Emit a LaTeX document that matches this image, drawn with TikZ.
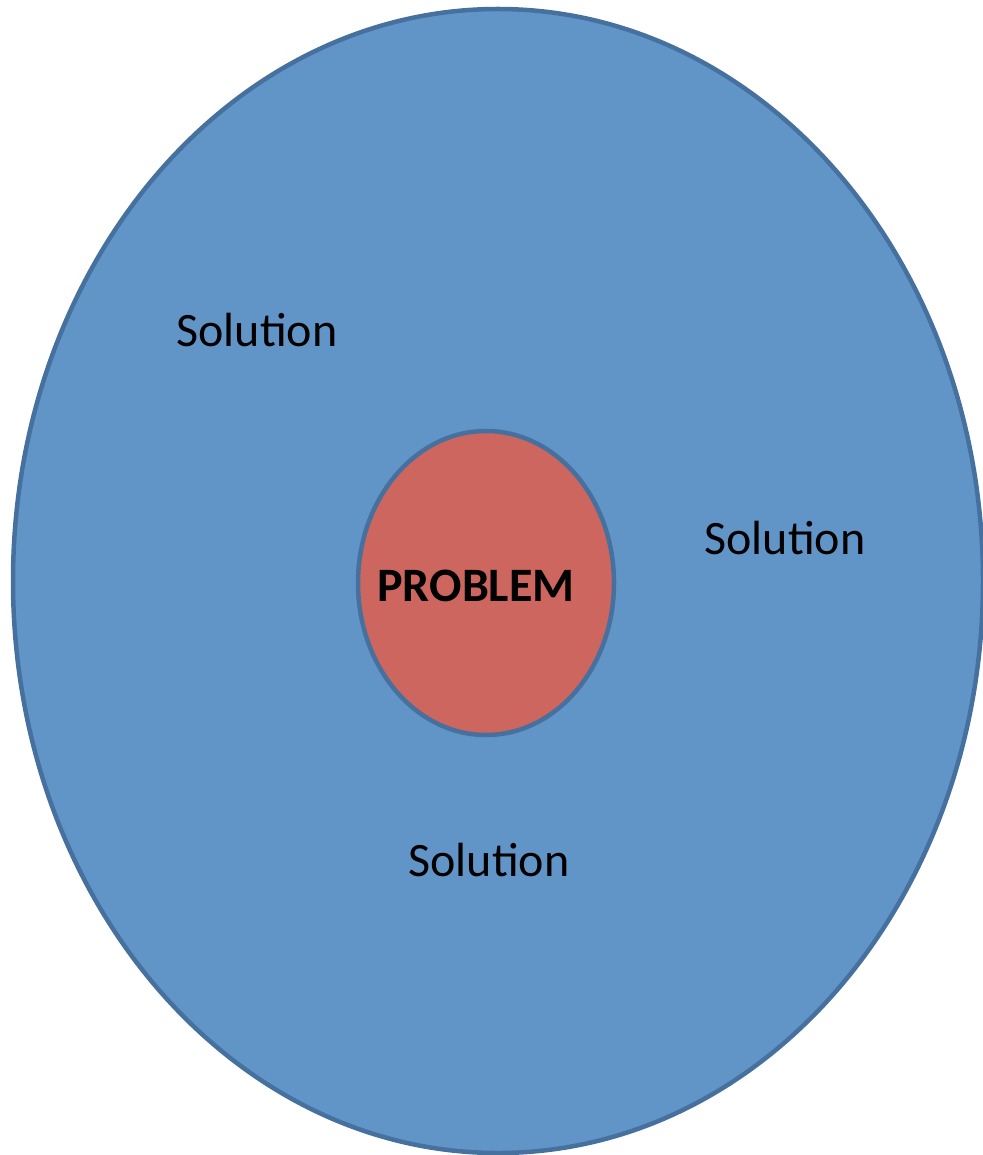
\documentclass[tikz,border=0pt]{standalone}
\usepackage{fontspec}
\setmainfont{Carlito}
\definecolor{bluefill}{HTML}{6195C8}
\definecolor{bluestroke}{HTML}{46719F}
\definecolor{redfill}{HTML}{CC665E}
\begin{document}
\begin{tikzpicture}[x=1pt,y=-1pt,
  outer/.style={draw=bluestroke,fill=bluefill,line width=4.5pt},
  inner/.style={draw=bluestroke,fill=redfill,line width=4.5pt},
  lbl/.style={font=\fontsize{48}{56}\selectfont,text=black,inner sep=0pt},
  blbl/.style={font=\fontsize{48}{56}\selectfont\bfseries,text=black,inner sep=0pt}]
\useasboundingbox (0,0) rectangle (982,1155);
\draw[outer] (498,581) ellipse [x radius=485, y radius=572];
\draw[inner] (486,583) ellipse [x radius=128, y radius=152];
\node[lbl] (s1) at (257,330) {Solution};
\node[lbl] (s2) at (785,538) {Solution};
\node[lbl] (s3) at (489,860) {Solution};
\node[blbl] (p) at (476,586) {PROBLEM};
\end{tikzpicture}
\end{document}
